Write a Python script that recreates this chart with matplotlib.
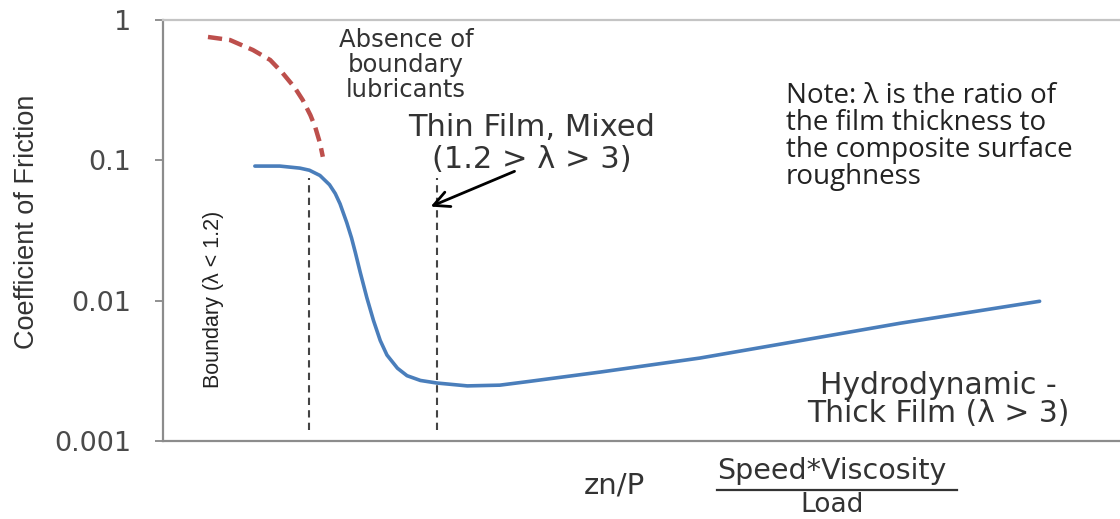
import matplotlib
matplotlib.use("Agg")
import matplotlib.pyplot as plt
from matplotlib.lines import Line2D

# Stribeck curve, zn/P in arbitrary units (0-100 across the axis)
zn_p_fluid = [9.6, 12.2, 14.3, 15.3, 16.4, 17.4, 18.0, 18.5, 19.2, 19.7, 20.1, 20.6,
              21.3, 22.0, 22.7, 23.4, 24.5, 25.5, 26.9, 28.6, 31.8, 35.2, 38.3,
              45.7, 56.1, 64.5, 77.0, 91.6]
friction_fluid = [0.091, 0.091, 0.088, 0.085, 0.078, 0.067, 0.058, 0.049, 0.036,
                  0.028, 0.022, 0.016, 0.0105, 0.0072, 0.0052, 0.0041, 0.0033,
                  0.00292, 0.00270, 0.00259, 0.00247, 0.00250, 0.00266, 0.0031,
                  0.0039, 0.0049, 0.0069, 0.0099]

zn_p_dry = [4.7, 7.0, 9.4, 11.2, 12.5, 13.8, 14.6, 15.4, 15.9, 16.4, 16.7]
friction_dry = [0.757, 0.72, 0.611, 0.519, 0.419, 0.327, 0.269, 0.210, 0.173, 0.133, 0.106]

# regime boundaries (zn/P) and the vertical extent of the marker lines
regime_edges = [15.26, 28.6]
edge_span = (0.0012, 0.075)

y_ticks = [0.001, 0.01, 0.1, 1]
y_tick_labels = ["0.001", "0.01", "0.1", "1"]

W, H = 1120, 519
fig = plt.figure(figsize=(W / 100, H / 100), dpi=100)
ax = fig.add_axes([163 / W, 1 - 441 / H, 1 - 163 / W, (441 - 20) / H])

ax.plot(zn_p_fluid, friction_fluid, color="#4a7ebb", lw=2.6,
        solid_capstyle="round", solid_joinstyle="round")
ax.plot(zn_p_dry, friction_dry, color="#bd4f4c", lw=3.2, dashes=(3.2, 1.6))
for xe in regime_edges:
    ax.vlines(xe, edge_span[0], edge_span[1], colors="#444444", lw=1.5,
              linestyles=(0, (3.5, 2.5)))

ax.annotate("", xy=(27.7, 0.046), xytext=(37.0, 0.085),
            arrowprops=dict(arrowstyle="->", color="black", lw=2, mutation_scale=28))

ax.set_yscale("log")
ax.set_ylim(0.001, 1)
ax.set_xlim(0, 100)
ax.set_xticks([])
ax.set_yticks(y_ticks)
ax.set_yticklabels(y_tick_labels)
ax.minorticks_off()
ax.tick_params(axis="y", length=6, width=1.3, color="#888888", pad=17,
               labelsize=19.5, labelcolor="#4a4a4a")

for side in ["left", "bottom"]:
    ax.spines[side].set_color("#8c8c8c")
    ax.spines[side].set_linewidth(1.6)
ax.spines["top"].set_color("#c4c4c4")
ax.spines["top"].set_linewidth(1.6)
ax.spines["right"].set_visible(False)


def put(px, py, s, **kw):
    fig.text(px / W, 1 - py / H, s, **kw)


arial = dict(family="DejaVu Sans", color="#333333", ha="center", va="center")
narrow = ["Liberation Sans Narrow", "Liberation Sans", "DejaVu Sans"]

put(27, 222, "Coefficient of Friction", family=narrow, fontsize=19.5, rotation=90,
    color="#333333", ha="center", va="center")
put(213, 299, "Boundary (\u03bb < 1.2)", family=narrow, fontsize=15.5, rotation=90,
    color="#222222", ha="center", va="center")

put(406, 40, "Absence of", fontsize=17.5, **arial)
put(406, 65, "boundary", fontsize=17.5, **arial)
put(406, 90, "lubricants", fontsize=17.5, **arial)

put(532, 127, "Thin Film, Mixed", fontsize=22, **arial)
put(532, 160, "(1.2 > \u03bb > 3)", fontsize=22, **arial)

put(938, 385, "Hydrodynamic -", fontsize=21.5, **arial)
put(938, 414, "Thick Film (\u03bb > 3)", fontsize=21.5, **arial)

note = ["Note: \u03bb is the ratio of", "the film thickness to",
        "the composite surface", "roughness"]
for i, line in enumerate(note):
    put(786, 96 + 27 * i, line, family=["Open Sans", "DejaVu Sans"], fontsize=20,
        color="#222222", ha="left", va="center")

put(614, 485, "zn/P", fontsize=21, **arial)
put(832, 471, "Speed*Viscosity", fontsize=20.5, **arial)
put(832, 505, "Load", fontsize=19, **arial)
fig.add_artist(Line2D([717 / W, 957 / W], [1 - 490 / H, 1 - 490 / H],
                      transform=fig.transFigure, color="#333333", lw=1.6))

fig.savefig("out.png", dpi=100)
